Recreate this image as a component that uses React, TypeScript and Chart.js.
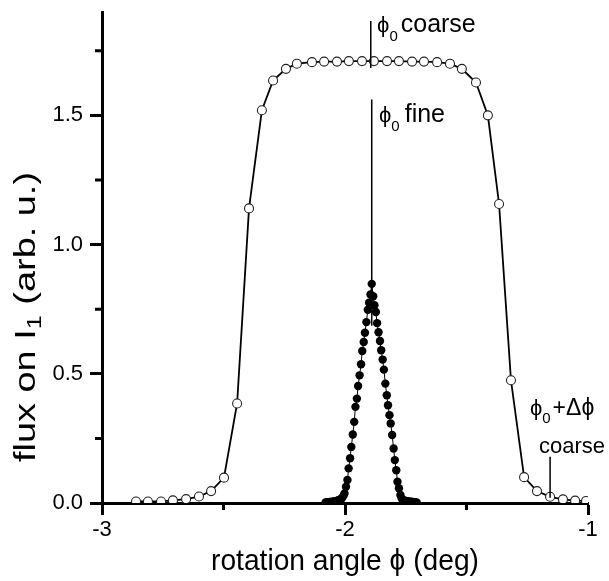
import { useEffect, useRef } from "react";
import { Chart, registerables } from "chart.js";

Chart.register(...registerables);

// ---- data ----
const coarseX = [
  -2.860, -2.811, -2.757, -2.708, -2.654, -2.601, -2.551, -2.498, -2.444, -2.395,
  -2.342, -2.296, -2.243, -2.198, -2.136, -2.086, -2.033, -1.984, -1.930, -1.881,
  -1.827, -1.778, -1.724, -1.675, -1.621, -1.568, -1.519, -1.461, -1.412, -1.366,
  -1.317, -1.263, -1.210, -1.156, -1.103, -1.053, -1.008,
];
const coarseY = [
  0.006, 0.006, 0.006, 0.010, 0.015, 0.025, 0.046, 0.098, 0.385, 1.140,
  1.520, 1.635, 1.680, 1.700, 1.706, 1.708, 1.708, 1.710, 1.710, 1.710,
  1.710, 1.710, 1.708, 1.708, 1.706, 1.700, 1.680, 1.627, 1.500, 1.157,
  0.475, 0.100, 0.046, 0.024, 0.014, 0.009, 0.008,
];

const fineX = [
  -2.080, -2.074, -2.069, -2.063, -2.058, -2.052, -2.046, -2.041, -2.035, -2.030,
  -2.024, -2.018, -2.013, -2.007, -2.002, -1.996, -1.990, -1.985, -1.979, -1.974,
  -1.968, -1.962, -1.957, -1.951, -1.946, -1.940, -1.934, -1.929, -1.923, -1.918,
  -1.912, -1.906, -1.901, -1.895, -1.890, -1.884, -1.879, -1.873, -1.868, -1.862,
  -1.856, -1.851, -1.845, -1.840, -1.834, -1.828, -1.823, -1.817, -1.812, -1.806,
  -1.800, -1.795, -1.789, -1.784, -1.778, -1.772, -1.767, -1.761, -1.756, -1.750,
  -1.744, -1.739, -1.733, -1.728, -1.722, -1.716, -1.711, -1.705,
];
const fineY = [
  0.002, 0.003, 0.003, 0.004, 0.004, 0.005, 0.006, 0.007, 0.008, 0.010,
  0.012, 0.015, 0.018, 0.027, 0.037, 0.063, 0.089, 0.134, 0.173, 0.217,
  0.265, 0.314, 0.372, 0.404, 0.453, 0.494, 0.537, 0.588, 0.623, 0.659,
  0.700, 0.748, 0.775, 0.807, 0.848, 0.800, 0.765, 0.739, 0.696, 0.661,
  0.627, 0.591, 0.555, 0.516, 0.462, 0.417, 0.378, 0.340, 0.308, 0.263,
  0.211, 0.166, 0.127, 0.082, 0.057, 0.031, 0.018, 0.012, 0.010, 0.008,
  0.007, 0.006, 0.005, 0.005, 0.004, 0.003, 0.003, 0.002,
];

const xTicks = [-3, -2, -1];
const yTicks = [0, 0.5, 1.0, 1.5];
const xMinorTicks = [-2.5, -1.5];
const yMinorTicks = [0.25, 0.75, 1.25, 1.75];

const xTitle = "rotation angle ϕ (deg)";
const yTitleMain = "flux on I";
const yTitleSub = "1";
const yTitleTail = " (arb. u.)";

// marker lines: [x, yFrom, yTo]
const markerLines = [
  [-1.894, 1.865, 1.683],
  [-1.890, 1.561, 0.686],
  [-1.156, 0.179, 0.020],
];

const FONT = '"Liberation Sans", Arial, Helvetica, sans-serif';

type Part = { text: string; size: number; dy?: number; gap?: number };

function drawParts(ctx: CanvasRenderingContext2D, x: number, y: number, parts: Part[]) {
  let cx = x;
  for (const p of parts) {
    ctx.font = `${p.size}px ${FONT}`;
    cx += p.gap || 0;
    ctx.fillText(p.text, cx, y + (p.dy || 0));
    cx += ctx.measureText(p.text).width;
  }
}
function partsWidth(ctx: CanvasRenderingContext2D, parts: Part[]) {
  let w = 0;
  for (const p of parts) {
    ctx.font = `${p.size}px ${FONT}`;
    w += (p.gap || 0) + ctx.measureText(p.text).width;
  }
  return w;
}

// label anchors in data units (left edge x, baseline y)
const labelCoarse = { x: -1.868, y: 1.824 };
const labelFine = { x: -1.860, y: 1.476 };
const labelDelta = { x: -1.239, y: 0.342 };
const labelDelta2 = { x: -1.202, y: 0.195 };

const overlayPlugin = {
  id: "overlay",
  afterDraw(chart: any) {
    const ctx: CanvasRenderingContext2D = chart.ctx;
    const xs = chart.scales.x;
    const ys = chart.scales.y;
    const area = chart.chartArea;
    ctx.save();
    ctx.fillStyle = "#000";
    ctx.strokeStyle = "#000";

    // minor ticks
    ctx.lineWidth = 3;
    ctx.beginPath();
    for (const v of xMinorTicks) {
      const px = xs.getPixelForValue(v);
      ctx.moveTo(px, area.bottom);
      ctx.lineTo(px, area.bottom + 7);
    }
    for (const v of yMinorTicks) {
      const py = ys.getPixelForValue(v);
      ctx.moveTo(area.left, py);
      ctx.lineTo(area.left - 7, py);
    }
    ctx.stroke();

    // marker lines
    ctx.lineWidth = 1.5;
    ctx.beginPath();
    for (const [mx, y1, y2] of markerLines) {
      const px = xs.getPixelForValue(mx);
      ctx.moveTo(px, ys.getPixelForValue(y1));
      ctx.lineTo(px, ys.getPixelForValue(y2));
    }
    ctx.stroke();

    ctx.textAlign = "left";
    ctx.textBaseline = "alphabetic";

    drawParts(ctx, xs.getPixelForValue(labelCoarse.x), ys.getPixelForValue(labelCoarse.y), [
      { text: "ϕ", size: 22 },
      { text: "0", size: 15, dy: 9 },
      { text: "coarse", size: 25, gap: 3 },
    ]);
    drawParts(ctx, xs.getPixelForValue(labelFine.x), ys.getPixelForValue(labelFine.y), [
      { text: "ϕ", size: 22 },
      { text: "0", size: 15, dy: 9 },
      { text: "fine", size: 25, gap: 5 },
    ]);
    drawParts(ctx, xs.getPixelForValue(labelDelta.x), ys.getPixelForValue(labelDelta.y), [
      { text: "ϕ", size: 22 },
      { text: "0", size: 15, dy: 8 },
      { text: "+Δϕ", size: 23, gap: 2 },
    ]);
    drawParts(ctx, xs.getPixelForValue(labelDelta2.x), ys.getPixelForValue(labelDelta2.y), [
      { text: "coarse", size: 22 },
    ]);

    // x title
    ctx.font = `30px ${FONT}`;
    ctx.textAlign = "center";
    ctx.fillText(xTitle, (area.left + area.right) / 2, 570, 268);

    // y title (rotated, with subscript)
    ctx.textAlign = "left";
    const yParts: Part[] = [
      { text: yTitleMain, size: 30 },
      { text: yTitleSub, size: 20, dy: 6 },
      { text: yTitleTail, size: 30 },
    ];
    const w = partsWidth(ctx, yParts);
    const stretch = 290 / w;
    ctx.translate(35, 317 + (w * stretch) / 2);
    ctx.rotate(-Math.PI / 2);
    ctx.scale(stretch, 1);
    drawParts(ctx, 0, 0, yParts);
    ctx.restore();
  },
};

export default function App() {
  const ref = useRef<HTMLCanvasElement | null>(null);

  useEffect(() => {
    if (!ref.current) return;
    const tickFont = { family: FONT, size: 22 };
    const chart = new Chart(ref.current, {
      type: "line",
      data: {
        datasets: [
          {
            label: "fine",
            data: fineX.map((x, i) => ({ x, y: fineY[i] })),
            borderColor: "#000",
            borderWidth: 1,
            pointRadius: 4.2,
            pointBackgroundColor: "#000",
            pointBorderColor: "#000",
            pointBorderWidth: 0,
            tension: 0,
          },
          {
            label: "coarse",
            data: coarseX.map((x, i) => ({ x, y: coarseY[i] })),
            borderColor: "#000",
            borderWidth: 1.8,
            pointRadius: 4.5,
            pointBackgroundColor: "#fff",
            pointBorderColor: "#222",
            pointBorderWidth: 1.1,
            tension: 0,
          },
        ],
      },
      options: {
        animation: false,
        responsive: false,
        devicePixelRatio: 1,
        events: [],
        layout: { padding: { top: 12, right: 21, left: 0, bottom: 0 } },
        plugins: { legend: { display: false }, tooltip: { enabled: false } },
        scales: {
          x: {
            type: "linear",
            min: -3,
            max: -1,
            afterBuildTicks: (s: any) => {
              s.ticks = xTicks.map((v) => ({ value: v }));
            },
            afterFit: (s: any) => {
              s.height = 78;
              s.paddingLeft = 0;
              s.paddingRight = 0;
            },
            ticks: {
              font: tickFont,
              color: "#000",
              padding: 2,
              maxRotation: 0,
              autoSkip: false,
              callback: (v: any) => String(v),
            },
            grid: {
              display: true,
              drawOnChartArea: false,
              drawTicks: true,
              tickLength: 12,
              tickWidth: 3,
              tickColor: "#000",
              color: "#000",
            },
            border: { display: true, color: "#000", width: 3 },
          },
          y: {
            type: "linear",
            min: 0,
            max: 1.9,
            afterBuildTicks: (s: any) => {
              s.ticks = yTicks.map((v) => ({ value: v }));
            },
            afterFit: (s: any) => {
              s.width = 102;
              s.paddingTop = 0;
              s.paddingBottom = 0;
            },
            ticks: {
              font: tickFont,
              color: "#000",
              padding: 7,
              autoSkip: false,
              callback: (v: any) => Number(v).toFixed(1),
            },
            grid: {
              display: true,
              drawOnChartArea: false,
              drawTicks: true,
              tickLength: 12,
              tickWidth: 3,
              tickColor: "#000",
              color: "#000",
            },
            border: { display: true, color: "#000", width: 3 },
          },
        },
      },
      plugins: [overlayPlugin],
    } as any);
    return () => chart.destroy();
  }, []);

  return (
    <div style={{ position: "absolute", left: 0, top: 0, width: 609, height: 581, background: "#fff" }}>
      <canvas ref={ref} width={609} height={581} style={{ display: "block" }} />
    </div>
  );
}
